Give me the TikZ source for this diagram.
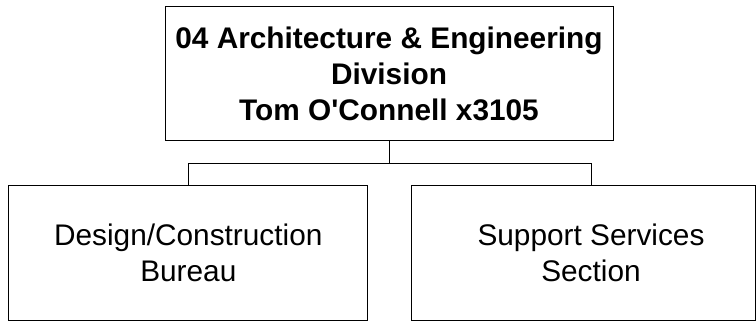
\documentclass[tikz,border=0pt]{standalone}
\usepackage{fontspec}
\setmainfont{Liberation Sans}
\begin{document}
\begin{tikzpicture}[x=1pt, y=1pt, line width=1pt,
        unit/.style={rectangle, draw, inner sep=0pt, align=center,
            font=\fontsize{29.8}{36}\selectfont},
        division/.style={unit, minimum width=448pt, minimum height=133.7pt, font=\fontsize{29.8}{36}\selectfont\bfseries},
        section/.style={unit, minimum width=358.7pt, minimum height=135pt}]
    \useasboundingbox (0,0) rectangle (756,322);

    \node[division] (div) at (389,248.2) {04 Architecture \& Engineering\\Division\\Tom O\textquotesingle Connell x3105};
    \node[section] (dcb) at (188.3,69.5) {Design/Construction\\Bureau};
    % right box is cut at the page edge, text stays over the connector
    \node[section, minimum width=343.3pt] (sss) at (583.35,69.5) {\hspace*{15.3pt}Support Services\\\hspace*{15.3pt}Section};

    \draw (div.south) -- ++(0,-22.6) -| (dcb.north);
    \draw (div.south) -- ++(0,-22.6) -| ([xshift=7.65pt]sss.north);
\end{tikzpicture}
\end{document}
